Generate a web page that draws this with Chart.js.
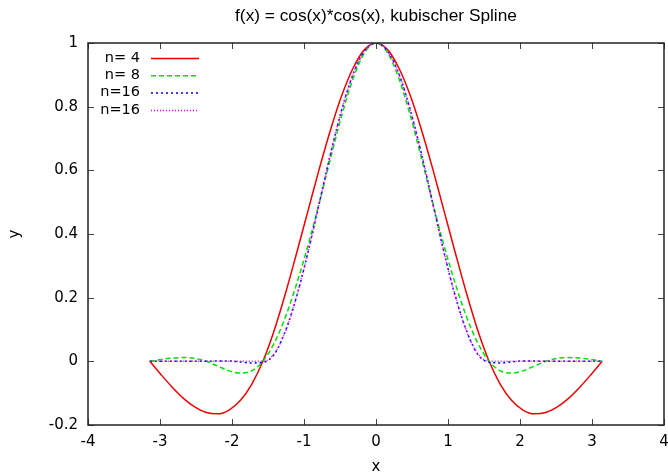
<!DOCTYPE html>
<html>
<head>
<meta charset="utf-8">
<script src="https://cdn.jsdelivr.net/npm/chart.js@4"></script>
<style>
  html, body { margin: 0; padding: 0; background: #fff; }
</style>
</head>
<body>
<canvas id="chart" width="668" height="476"></canvas>
<script>
const xs = [-3.142, -2.985, -2.827, -2.670, -2.513, -2.356, -2.199, -2.042, -1.885, -1.728,
  -1.571, -1.414, -1.257, -1.100, -0.942, -0.785, -0.628, -0.471, -0.314, -0.157, 0,
  0.157, 0.314, 0.471, 0.628, 0.785, 0.942, 1.100, 1.257, 1.414, 1.571,
  1.728, 1.885, 2.042, 2.199, 2.356, 2.513, 2.670, 2.827, 2.985, 3.142];

const yN4 = [0, -0.042, -0.082, -0.117, -0.144, -0.161, -0.165, -0.153, -0.123, -0.073,
  0, 0.097, 0.214, 0.342, 0.475, 0.607, 0.730, 0.838, 0.923, 0.980, 1,
  0.980, 0.923, 0.838, 0.730, 0.607, 0.475, 0.342, 0.214, 0.097, 0,
  -0.073, -0.123, -0.153, -0.165, -0.161, -0.144, -0.117, -0.082, -0.042, 0];

const yN8 = [0, 0.006, 0.010, 0.012, 0.009, 0, -0.015, -0.030, -0.037, -0.030,
  0, 0.057, 0.140, 0.245, 0.366, 0.500, 0.641, 0.776, 0.891, 0.970, 1,
  0.970, 0.891, 0.776, 0.641, 0.500, 0.366, 0.245, 0.140, 0.057, 0,
  -0.030, -0.037, -0.030, -0.015, 0, 0.009, 0.012, 0.010, 0.006, 0];

const yN16 = [0, 0, 0, 0, 0, 0, 0.001, 0.001, -0.002, -0.005,
  -0.003, 0.022, 0.096, 0.206, 0.345, 0.500, 0.655, 0.794, 0.905, 0.976, 1,
  0.976, 0.905, 0.794, 0.655, 0.500, 0.345, 0.206, 0.096, 0.022, -0.003,
  -0.005, -0.002, 0.001, 0.001, 0, 0, 0, 0, 0, 0];

const yN16b = [0, 0, 0, 0, 0, 0, 0, 0, 0, 0,
  0, 0.024, 0.095, 0.206, 0.345, 0.500, 0.655, 0.794, 0.905, 0.976, 1,
  0.976, 0.905, 0.794, 0.655, 0.500, 0.345, 0.206, 0.095, 0.024, 0,
  0, 0, 0, 0, 0, 0, 0, 0, 0, 0];

const seriesLabels = ['n= 4', 'n= 8', 'n=16', 'n=16'];
const xTicks = [-4, -3, -2, -1, 0, 1, 2, 3, 4];
const yTicks = [-0.2, 0, 0.2, 0.4, 0.6, 0.8, 1];

const titleText = 'f(x) = cos(x)*cos(x), kubischer Spline';
const tickFont = { family: 'DejaVu Sans', size: 15 };

function points(ys) {
  return xs.map((x, i) => ({ x: x, y: ys[i] }));
}

// gnuplot style frame with inward ticks on all four sides
const gnuFrame = {
  id: 'gnuFrame',
  afterDatasetsDraw(chart) {
    const { ctx, chartArea: a, scales } = chart;
    ctx.save();
    ctx.strokeStyle = '#444';
    ctx.lineWidth = 1;
    ctx.beginPath();
    xTicks.forEach(v => {
      const px = Math.round(scales.x.getPixelForValue(v)) + 0.5;
      ctx.moveTo(px, a.bottom); ctx.lineTo(px, a.bottom - 6);
      ctx.moveTo(px, a.top); ctx.lineTo(px, a.top + 6);
    });
    yTicks.forEach(v => {
      const py = Math.round(scales.y.getPixelForValue(v)) + 0.5;
      ctx.moveTo(a.left, py); ctx.lineTo(a.left + 6, py);
      ctx.moveTo(a.right, py); ctx.lineTo(a.right - 6, py);
    });
    ctx.stroke();
    ctx.strokeStyle = '#222';
    ctx.lineWidth = 1.5;
    ctx.strokeRect(a.left, a.top, a.right - a.left, a.bottom - a.top);
    ctx.restore();
  }
};

// title over the plot area and the key in the upper left corner
const gnuText = {
  id: 'gnuText',
  afterDraw(chart) {
    const { ctx, chartArea: a } = chart;
    ctx.save();
    ctx.fillStyle = '#000';
    ctx.font = '17.3px "Liberation Sans"';
    ctx.textAlign = 'center';
    ctx.textBaseline = 'middle';
    ctx.fillText(titleText, (a.left + a.right) / 2, 16);

    ctx.font = '14.5px "DejaVu Sans"';
    ctx.textAlign = 'right';
    chart.data.datasets.forEach((ds, i) => {
      const y = 58 + i * 17.3;
      ctx.fillStyle = '#000';
      ctx.fillText(ds.label, 140, y);
      ctx.strokeStyle = ds.borderColor;
      ctx.lineWidth = ds.borderWidth;
      ctx.setLineDash(ds.borderDash || []);
      ctx.beginPath();
      ctx.moveTo(151, y + 0.5);
      ctx.lineTo(199, y + 0.5);
      ctx.stroke();
    });
    ctx.restore();
  }
};

const lineStyles = [
  { color: 'rgb(238,0,0)', dash: [], order: 4 },
  { color: 'rgb(0,225,0)', dash: [5, 3], order: 3 },
  { color: 'rgb(0,0,255)', dash: [2, 3], order: 2 },
  { color: 'rgb(255,0,255)', dash: [1, 2], order: 1 }
];

const allSeries = [yN4, yN8, yN16, yN16b];

new Chart(document.getElementById('chart'), {
  type: 'line',
  data: {
    datasets: allSeries.map((ys, i) => ({
      label: seriesLabels[i],
      data: points(ys),
      borderColor: lineStyles[i].color,
      borderDash: lineStyles[i].dash,
      borderWidth: 1.5,
      pointRadius: 0,
      cubicInterpolationMode: 'monotone',
      fill: false,
      order: lineStyles[i].order
    }))
  },
  options: {
    responsive: false,
    animation: false,
    devicePixelRatio: 1,
    layout: { autoPadding: false, padding: { top: 43, right: 4, left: 0, bottom: 0 } },
    plugins: {
      legend: { display: false },
      tooltip: { enabled: false },
      title: { display: false }
    },
    scales: {
      x: {
        type: 'linear',
        min: -4,
        max: 4,
        afterFit: s => { s.height = 51; s.paddingLeft = 0; s.paddingRight = 0; },
        afterBuildTicks: s => { s.ticks = xTicks.map(v => ({ value: v })); },
        ticks: { font: tickFont, color: '#000', padding: 8, autoSkip: false, maxRotation: 0,
          callback: v => String(v) },
        grid: { display: false, drawTicks: false },
        border: { display: false },
        title: { display: true, text: 'x', font: tickFont, color: '#000', padding: { top: 0, bottom: 0 } }
      },
      y: {
        type: 'linear',
        min: -0.2,
        max: 1,
        afterFit: s => { s.width = 88; s.paddingTop = 0; s.paddingBottom = 0; },
        afterBuildTicks: s => { s.ticks = yTicks.map(v => ({ value: v })); },
        ticks: { font: tickFont, color: '#000', padding: 10,
          callback: v => String(Math.round(v * 10) / 10) },
        grid: { display: false, drawTicks: false },
        border: { display: false },
        title: { display: true, text: 'y', font: tickFont, color: '#000', padding: { top: 6, bottom: 0 } }
      }
    }
  },
  plugins: [gnuFrame, gnuText]
});
</script>
</body>
</html>
